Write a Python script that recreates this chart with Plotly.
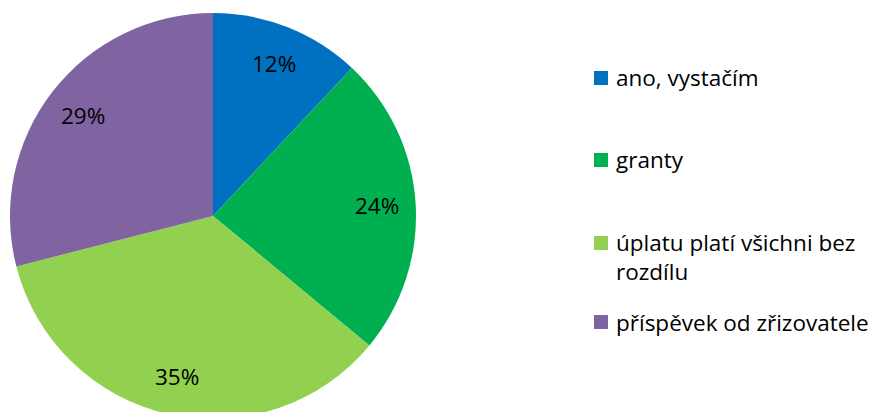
import math
import plotly.graph_objects as go

labels = ["ano, vystačím", "granty", "úplatu platí všichni bez rozdílu", "příspěvek od zřizovatele"]
legend_text = ["ano, vystačím", "granty", "úplatu platí všichni bez<br>rozdílu", "příspěvek od zřizovatele"]
values = [12, 24, 35, 29]
colors = ["#0070C0", "#00B050", "#92D050", "#8064A2"]

FONT = "Open Sans, sans-serif"
FS = 22.5

# the page body adds an 8px offset, so work in page pixels and convert
OFF = 8
W, H = 886, 412
T, B = 5, 1


def paper(x, y):
    return (x - OFF) / W, (H - B - (y - OFF)) / (H - T - B)


# pie: centre (213, 216) on the page, radius 203
cx, cy, R = 213, 216, 203
fig = go.Figure()

fig.add_trace(
    go.Pie(
        labels=labels,
        values=values,
        sort=False,
        direction="clockwise",
        rotation=0,
        marker={"colors": colors, "line": {"width": 0}},
        textinfo="none",
        domain={"x": [(cx - R - OFF) / W, (cx + R - OFF) / W], "y": [0, 1]},
        showlegend=False,
        hoverinfo="label+percent",
    )
)

# percentage labels along each slice's mid angle
total = sum(values)
cum = 0
for v in values:
    mid = (cum + v / 2) / total * 360
    cum += v
    r = 0.81 * R
    lx = cx + r * math.sin(math.radians(mid))
    ly = cy - r * math.cos(math.radians(mid))
    ax, ay = paper(lx, ly)
    fig.add_annotation(
        text=f"{round(v / total * 100)}%", xref="paper", yref="paper",
        x=ax, y=ay, xanchor="center", yanchor="middle", showarrow=False,
        font={"family": FONT, "size": FS, "color": "black"},
    )

# legend drawn by hand so the item spacing matches the original
legend_y = [78, 160, 243, 322]
line_h = 27
for txt, col, y in zip(legend_text, colors, legend_y):
    x0, y0 = paper(594, y + 7)
    x1, y1 = paper(608, y - 7)
    fig.add_shape(
        type="rect", xref="paper", yref="paper",
        x0=x0, x1=x1, y0=y0, y1=y1,
        fillcolor=col, line={"width": 0},
    )
    n = txt.count("<br>")
    tx, ty = paper(614, y + n * line_h / 2)
    fig.add_annotation(
        text=txt, xref="paper", yref="paper",
        x=tx, y=ty, xanchor="left", yanchor="middle",
        align="left", showarrow=False,
        font={"family": FONT, "size": FS, "color": "black"},
    )

fig.update_layout(
    width=W,
    height=H,
    margin={"l": 0, "r": 0, "t": T, "b": B},
    paper_bgcolor="white",
    plot_bgcolor="white",
)

fig.write_html("out.html")
